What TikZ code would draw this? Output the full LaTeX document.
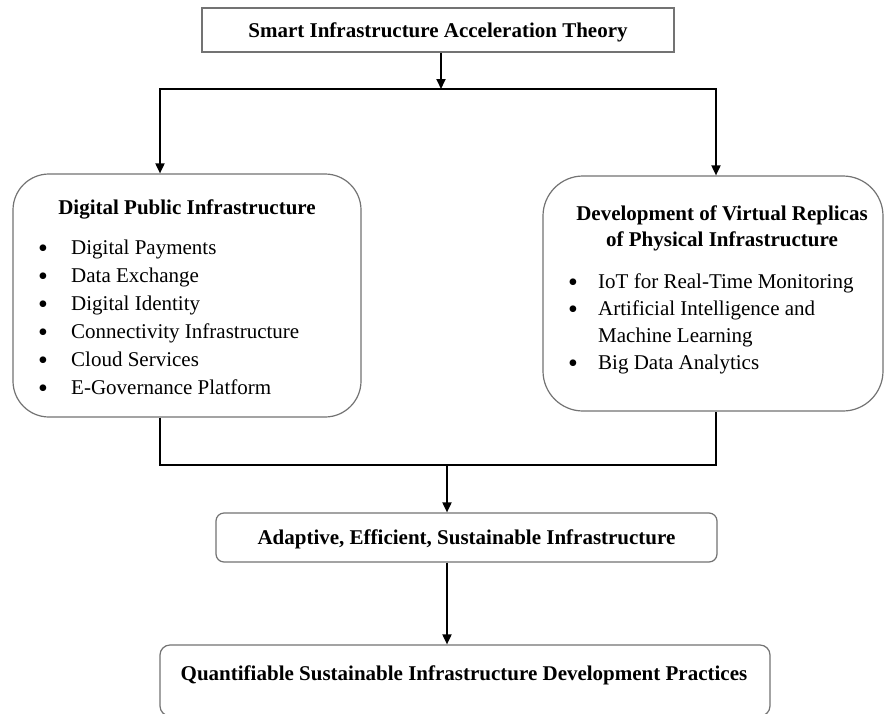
\documentclass[tikz,border=0pt]{standalone}
\usepackage{fontspec}
\setmainfont{Liberation Serif}
\usetikzlibrary{arrows.meta}
\definecolor{boxgray}{RGB}{115,115,115}
\begin{document}
\begin{tikzpicture}[x=1pt,y=-1pt,
  box/.style={draw=boxgray,line width=1.2pt,fill=white,inner sep=0pt,rectangle},
  tx/.style={font=\fontsize{21}{26}\selectfont,inner sep=0pt,anchor=base west},
  ttl/.style={font=\fontsize{21}{26}\selectfont\bfseries,inner sep=0pt,anchor=base},
  bul/.style={font=\fontsize{28}{28}\selectfont,inner sep=0pt,anchor=base},
  conn/.style={draw=black,line width=1.8pt},
  arr/.style={conn,-{Triangle[length=10pt,width=9pt]}}
]
\useasboundingbox[fill=white] (0,0) rectangle (884,713);

% boxes
\node[box,minimum width=472pt,minimum height=44pt] (top) at (438,30) {};
\node[box,rounded corners=36pt,minimum width=348pt,minimum height=243pt] (dpi) at (187,295.5) {};
\node[box,rounded corners=40pt,minimum width=340pt,minimum height=235pt] (dvr) at (713,293.5) {};
\node[box,rounded corners=8pt,minimum width=501pt,minimum height=49pt] (ada) at (466.5,537.5) {};
\node[box,rounded corners=10pt,minimum width=610pt,minimum height=71pt] (qsi) at (465,680.5) {};

% texts
\node[ttl] (ttop) at (438,37) {Smart Infrastructure Acceleration Theory};
\node[ttl] (tdpi) at (187,214) {Digital Public Infrastructure};
\node[bul] (b1) at (43,257) {•};
\node[tx] (i1) at (71,254) {Digital Payments};
\node[bul] (b2) at (43,285) {•};
\node[tx] (i2) at (71,282) {Data Exchange};
\node[bul] (b3) at (43,313) {•};
\node[tx] (i3) at (71,310) {Digital Identity};
\node[bul] (b4) at (43,341) {•};
\node[tx] (i4) at (71,338) {Connectivity Infrastructure};
\node[bul] (b5) at (43,369) {•};
\node[tx] (i5) at (71,366) {Cloud Services};
\node[bul] (b6) at (43,397) {•};
\node[tx] (i6) at (71,394) {E-Governance Platform};

\node[ttl] (tdvr1) at (722,220) {Development of Virtual Replicas};
\node[ttl] (tdvr2) at (722,246) {of Physical Infrastructure};
\node[bul] (c1) at (573,291) {•};
\node[tx] (j1) at (598,288) {IoT for Real-Time Monitoring};
\node[bul] (c2) at (573,318) {•};
\node[tx] (j2) at (598,315) {Artificial Intelligence and};
\node[tx] (j2b) at (598,342) {Machine Learning};
\node[bul] (c3) at (573,372) {•};
\node[tx] (j3) at (598,369) {Big Data Analytics};

\node[ttl] (tada) at (466.5,544) {Adaptive, Efficient, Sustainable Infrastructure};
\node[ttl] (tqsi) at (464,680) {Quantifiable Sustainable Infrastructure Development Practices};

% connectors
\coordinate (split) at (441,89);
\coordinate (sl) at (160,89);
\coordinate (sr) at (716,89);
\coordinate (ml) at (160,465);
\coordinate (mr) at (716,465);
\coordinate (mm) at (447,465);

\draw[arr] (top.south -| split) -- (split);
\draw[conn,line cap=rect] (sl) -- (sr);
\draw[arr] (sl) -- (sl |- dpi.north);
\draw[arr] (sr) -- (sr |- dvr.north);
\draw[conn,line join=miter] (dpi.south -| ml) -- (ml) -- (mr) -- (dvr.south -| mr);
\draw[arr] (mm) -- (mm |- ada.north);
\draw[arr] (ada.south -| mm) -- (mm |- qsi.north);
\end{tikzpicture}
\end{document}
